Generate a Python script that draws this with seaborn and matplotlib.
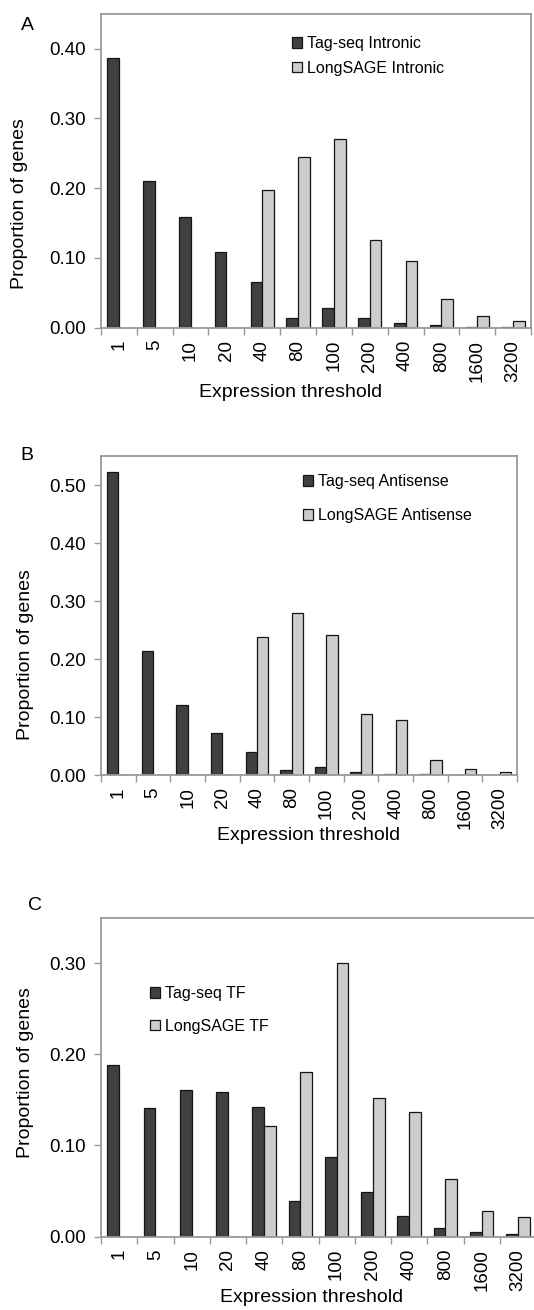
import matplotlib
matplotlib.use('Agg')
import matplotlib.pyplot as plt
import seaborn as sns
import pandas as pd
import numpy as np

# Datos
thresholds = ['1', '5', '10', '20', '40', '80', '100', '200', '400', '800', '1600', '3200']

tagseq_intronic = [0.387, 0.211, 0.158, 0.108, 0.065, 0.014, 0.028, 0.014, 0.007, 0.003, 0.001, 0.001]
longsage_intronic = [0.0, 0.0, 0.0, 0.0, 0.198, 0.245, 0.270, 0.125, 0.096, 0.041, 0.016, 0.010]

tagseq_antisense = [0.522, 0.213, 0.121, 0.072, 0.039, 0.009, 0.013, 0.005, 0.002, 0.001, 0.0, 0.0]
longsage_antisense = [0.0, 0.0, 0.0, 0.0, 0.238, 0.279, 0.242, 0.106, 0.094, 0.026, 0.010, 0.006]

tagseq_tf = [0.188, 0.141, 0.161, 0.158, 0.142, 0.039, 0.087, 0.049, 0.022, 0.0095, 0.005, 0.0026]
longsage_tf = [0.0, 0.0, 0.0, 0.0, 0.121, 0.181, 0.300, 0.152, 0.137, 0.063, 0.028, 0.021]

DARK = '#404040'
LIGHT = '#cdcdcd'
SPINE = '#9a9a9a'

W, H = 534, 1310


def set_style():
    """
    Configura el estilo de las visualizaciones.
    """
    sns.set_theme(style='white')
    plt.rcParams['font.family'] = ['Liberation Sans', 'DejaVu Sans']
    plt.rcParams['font.size'] = 12
    plt.rcParams['text.color'] = 'black'
    plt.rcParams['axes.labelcolor'] = 'black'
    plt.rcParams['xtick.labelcolor'] = 'black'
    plt.rcParams['ytick.labelcolor'] = 'black'


def plot_panel(fig, rect, letter, letter_xy, tag, longsage, labels, ylim, yticks,
               legend_xy, labelspacing, ylabel_xy, xlabel_xy):
    """
    Dibuja un panel de barras agrupadas (Tag-seq vs LongSAGE).
    """
    ax = fig.add_axes([rect[0] / W, 1 - rect[3] / H, (rect[2] - rect[0]) / W, (rect[3] - rect[1]) / H])

    df = pd.DataFrame({
        'threshold': thresholds * 2,
        'proportion': tag + longsage,
        'method': [labels[0]] * len(thresholds) + [labels[1]] * len(thresholds),
    })

    sns.barplot(data=df, x='threshold', y='proportion', hue='method', order=thresholds,
                palette=[DARK, LIGHT], width=0.65, gap=0, edgecolor='#151515',
                linewidth=0.9, saturation=1, ax=ax)

    ax.set_xlim(-0.5, len(thresholds) - 0.5)
    ax.set_ylim(*ylim)
    ax.set_yticks(yticks)
    ax.set_yticklabels([f'{v:.2f}' for v in yticks], fontsize=13.5)
    ax.set_xticks(range(len(thresholds)))
    ax.set_xticklabels(thresholds, rotation=90, fontsize=13.5)

    # Ticks del eje x en los limites de las categorias
    ax.set_xticks(np.arange(-0.5, len(thresholds), 1), minor=True)
    ax.tick_params(axis='x', which='major', length=0, pad=9)
    ax.tick_params(axis='x', which='minor', bottom=True, length=5, width=1, color=SPINE)
    ax.tick_params(axis='y', left=True, length=5, width=1, color=SPINE, pad=6)

    for side in ['top', 'right', 'left', 'bottom']:
        ax.spines[side].set_visible(True)
        ax.spines[side].set_color(SPINE)
        ax.spines[side].set_linewidth(1.3)

    # Etiquetas de ejes
    ax.set_ylabel('Proportion of genes', fontsize=14)
    ax.set_xlabel('Expression threshold', fontsize=14)
    ax.yaxis.set_label_coords(ylabel_xy[0], ylabel_xy[1])
    ax.xaxis.set_label_coords(xlabel_xy[0], xlabel_xy[1])

    # Leyenda
    ax.legend(loc='upper left', bbox_to_anchor=(legend_xy[0] / W, 1 - legend_xy[1] / H),
              bbox_transform=fig.transFigure, frameon=False, fontsize=11.5,
              handlelength=0.65, handleheight=0.65, handletextpad=0.3,
              labelspacing=labelspacing, borderpad=0, borderaxespad=0)

    fig.text(letter_xy[0] / W, 1 - letter_xy[1] / H, letter, fontsize=14,
             ha='center', va='center')
    return ax


set_style()
fig = plt.figure(figsize=(W / 100, H / 100), dpi=100)

# Panel A
plot_panel(fig, (101, 14, 531, 327.5), 'A', (27, 25),
           tagseq_intronic, longsage_intronic,
           ('Tag-seq Intronic', 'LongSAGE Intronic'),
           (0, 0.45), [0.0, 0.1, 0.2, 0.3, 0.4],
           (292, 36), 0.6, (-0.17, 0.394), (0.442, -0.18))

# Panel B
plot_panel(fig, (101, 456, 517, 775), 'B', (27, 456),
           tagseq_antisense, longsage_antisense,
           ('Tag-seq Antisense', 'LongSAGE Antisense'),
           (0, 0.55), [0.0, 0.1, 0.2, 0.3, 0.4, 0.5],
           (303, 474), 1.2, (-0.16, 0.379), (0.498, -0.162))

# Panel C
plot_panel(fig, (101, 917.5, 536, 1236.5), 'C', (35, 906),
           tagseq_tf, longsage_tf,
           ('Tag-seq TF', 'LongSAGE TF'),
           (0, 0.35), [0.0, 0.1, 0.2, 0.3],
           (150, 986), 1.1, (-0.155, 0.513), (0.484, -0.165))

plt.savefig('out.png', dpi=100)
plt.close()
